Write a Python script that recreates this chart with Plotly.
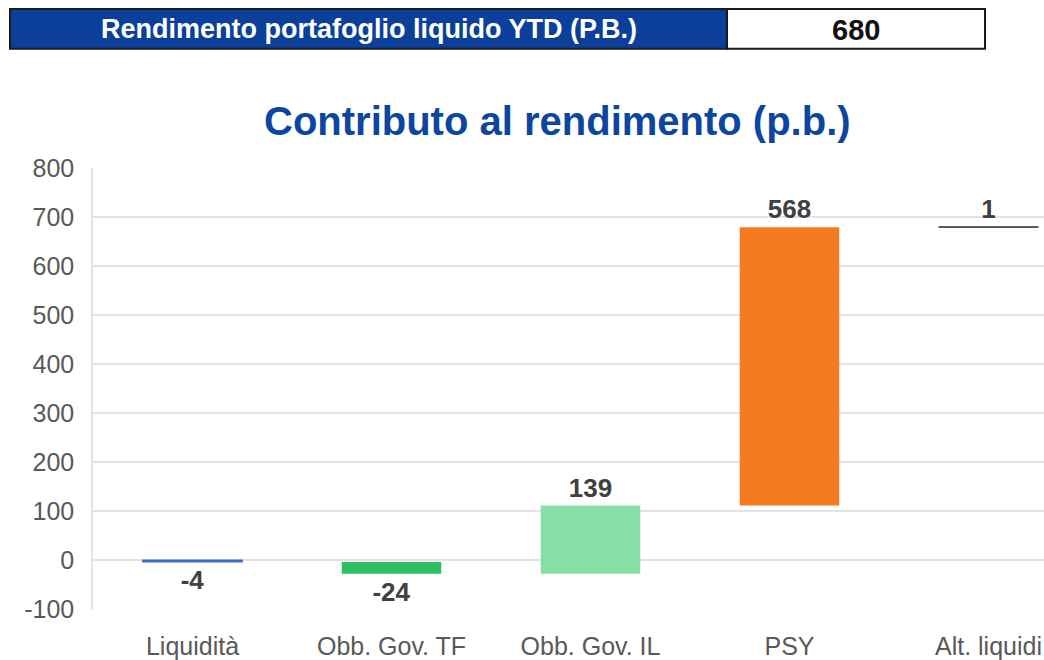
import plotly.graph_objects as go

categories = ["Liquidità", "Obb. Gov. TF", "Obb. Gov. IL", "PSY", "Alt. liquidi"]
contributions = [-4, -24, 139, 568, 1]
bar_colors = ["#3A6FCB", "#2EBF62", "#86E0A6", "#F47B20", "#404040"]
y_ticks = [-100, 0, 100, 200, 300, 400, 500, 600, 700, 800]
y_tick_labels = ["-100", "0", "100", "200", "300", "400", "500", "600", "700", "800"]
header_label = "Rendimento portafoglio liquido YTD (P.B.)"
header_value = 680
chart_title = "Contributo al rendimento (p.b.)"

# waterfall bases
bases = []
running = 0
for v in contributions:
    bases.append(running)
    running += v

# Plot area in pixels
W, H = 1044, 660
L, R, T, B = 93, 0, 168, 48
pw, ph = W - L - R, H - T - B

def px(x):
    return (x - L) / pw

def py(y):
    return (H - B - y) / ph

fig = go.Figure()
fig.add_trace(go.Bar(
    x=categories,
    y=contributions,
    base=bases,
    width=0.5,
    marker=dict(color=bar_colors, line=dict(color=bar_colors, width=[1.2, 0, 0, 0, 1])),
    text=[str(v) for v in contributions],
    textposition="outside",
    textfont=dict(family="Liberation Sans, Arial", size=26, color="#404040", weight="bold"),
    cliponaxis=False,
    showlegend=False,
))

shapes = [
    dict(type="rect", xref="paper", yref="paper", x0=px(10), x1=px(727), y0=py(48), y1=py(8),
         fillcolor="#0B3F9A", line=dict(color="#1a1a1a", width=2), layer="above"),
    dict(type="rect", xref="paper", yref="paper", x0=px(727), x1=px(985), y0=py(48), y1=py(8),
         fillcolor="#FFFFFF", line=dict(color="#1a1a1a", width=2), layer="above"),
]

annotations = [
    dict(x=px(369), y=py(28), xref="paper", yref="paper", text=header_label,
         showarrow=False, font=dict(family="Liberation Sans, Arial", size=27, color="white", weight="bold"),
         xanchor="center", yanchor="middle"),
    dict(x=px(856), y=py(29), xref="paper", yref="paper", text=str(header_value),
         showarrow=False, font=dict(family="Liberation Sans, Arial", size=29, color="#111111", weight="bold"),
         xanchor="center", yanchor="middle"),
    dict(x=px(557), y=py(121), xref="paper", yref="paper", text=chart_title,
         showarrow=False, font=dict(family="Liberation Sans, Arial", size=40, color="#0B47A0", weight="bold"),
         xanchor="center", yanchor="middle"),
]

fig.update_layout(
    width=W, height=H,
    margin=dict(l=L, r=R, t=T, b=B, pad=0),
    paper_bgcolor="white", plot_bgcolor="white",
    shapes=shapes, annotations=annotations,
    font=dict(family="Liberation Sans, Arial", color="#595959"),
    xaxis=dict(
        range=[-0.5, -0.5 + pw / 199.0],
        showgrid=False, zeroline=False, showline=False,
        ticks="outside", ticklen=15, tickcolor="rgba(0,0,0,0)",
        tickfont=dict(size=25, color="#595959"),
    ),
    yaxis=dict(
        range=[-100, 800], tickvals=y_ticks, ticktext=y_tick_labels,
        showgrid=True, gridcolor="#E3E3E3", gridwidth=1.5,
        zeroline=False, showline=True, linecolor="#E3E3E3", linewidth=1.5,
        ticks="outside", ticklen=12, tickcolor="rgba(0,0,0,0)",
        tickfont=dict(size=25, color="#595959"),
    ),
)

fig.write_html("out.html", config={"displayModeBar": False},
               post_script="document.body.style.margin='0px';")
